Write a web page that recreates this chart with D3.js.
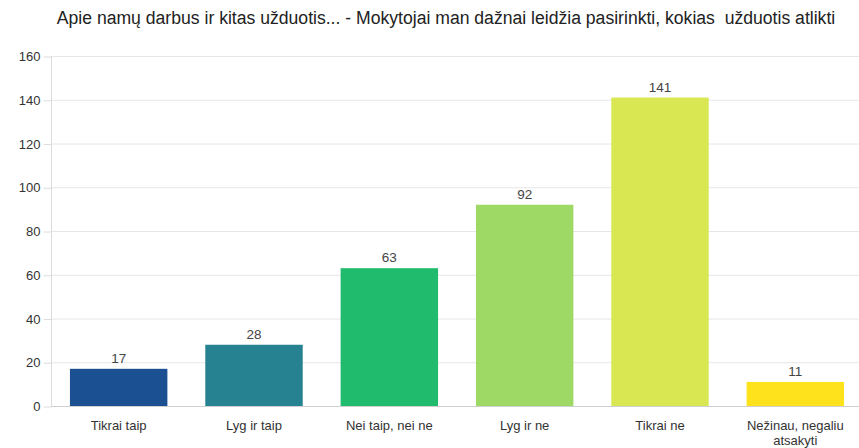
<!DOCTYPE html>
<html>
<head>
<meta charset="UTF-8">
<style>
  body { margin: 0; background: #fff; }
  svg { display: block; font-family: "Liberation Sans", Arial, sans-serif; }
</style>
</head>
<body>
<svg></svg>
<script src="https://d3js.org/d3.v7.min.js"></script>
<script>

let categories = ["Tikrai taip", "Lyg ir taip", "Nei taip, nei ne", "Lyg ir ne", "Tikrai ne", "Nežinau, negaliu atsakyti"];
let values = [17, 28, 63, 92, 141, 11];
let colors = ["#1b5193", "#268290", "#20bb6d", "#9dd964", "#d9e852", "#fde21c"];
let yTicks = [0, 20, 40, 60, 80, 100, 120, 140, 160];
let title = "Apie namų darbus ir kitas užduotis... - Mokytojai man dažnai leidžia pasirinkti, kokias  užduotis atlikti";

let width = 859,
    height = 448;

let svg = d3.select("svg")
    .attr("width", width)
    .attr("height", height);

let x = d3.scaleBand()
    .domain(categories)
    .range([51, 863])
    .paddingInner(0.28)
    .paddingOuter(0.14);

let y = d3.scaleLinear()
    .domain([0, 160])
    .range([406, 56]);

// gridlines
svg.append("g")
  .selectAll("line")
  .data(yTicks)
  .enter()
  .append("line")
    .attr("x1", 51)
    .attr("x2", width)
    .attr("y1", d => y(d) + 0.5)
    .attr("y2", d => y(d) + 0.5)
    .attr("stroke", d => d === 0 ? "#cfcfcf" : "#e6e6e6");

// y axis
let yAxis = svg.append("g")
    .attr("transform", "translate(51.5,0.5)")
    .call(d3.axisLeft(y).tickValues(yTicks).tickSize(8).tickPadding(3));
yAxis.select(".domain").attr("stroke", "#dcdcdc").attr("d", "M0," + y(160) + "V" + y(0));
yAxis.selectAll(".tick line").attr("stroke", "#dcdcdc");
yAxis.selectAll(".tick text")
    .attr("fill", "#333")
    .attr("font-size", 13)
    .attr("font-family", "Liberation Sans, Arial, sans-serif");

// bars
svg.append("g")
  .selectAll("rect")
  .data(values)
  .enter()
  .append("rect")
    .attr("x", (d, i) => x(categories[i]))
    .attr("y", d => y(d))
    .attr("width", x.bandwidth())
    .attr("height", d => y(0) - y(d))
    .attr("fill", (d, i) => colors[i]);

// value labels
svg.append("g")
  .selectAll("text")
  .data(values)
  .enter()
  .append("text")
    .attr("x", (d, i) => x(categories[i]) + x.bandwidth() / 2)
    .attr("y", d => y(d) - 6)
    .attr("text-anchor", "middle")
    .attr("font-size", 13.5)
    .attr("fill", "#444")
    .text(d => d);

// x labels, wrapped
let xl = svg.append("g")
  .selectAll("text")
  .data(categories)
  .enter()
  .append("text")
    .attr("x", d => x(d) + x.bandwidth() / 2)
    .attr("y", 430)
    .attr("text-anchor", "middle")
    .attr("font-size", 13)
    .attr("fill", "#333");
xl.each(function(d) {
  let lines = d === "Nežinau, negaliu atsakyti" ? ["Nežinau, negaliu", "atsakyti"] : [d];
  let t = d3.select(this);
  lines.forEach((l, i) => {
    t.append("tspan")
      .attr("x", x(d) + x.bandwidth() / 2)
      .attr("dy", i === 0 ? 0 : 15)
      .text(l);
  });
});

// title
svg.append("text")
    .attr("x", 446)
    .attr("y", 24)
    .attr("text-anchor", "middle")
    .attr("font-size", 17.6)
    .attr("fill", "#222")
    .style("white-space", "pre")
    .text(title);

</script>
</body>
</html>
